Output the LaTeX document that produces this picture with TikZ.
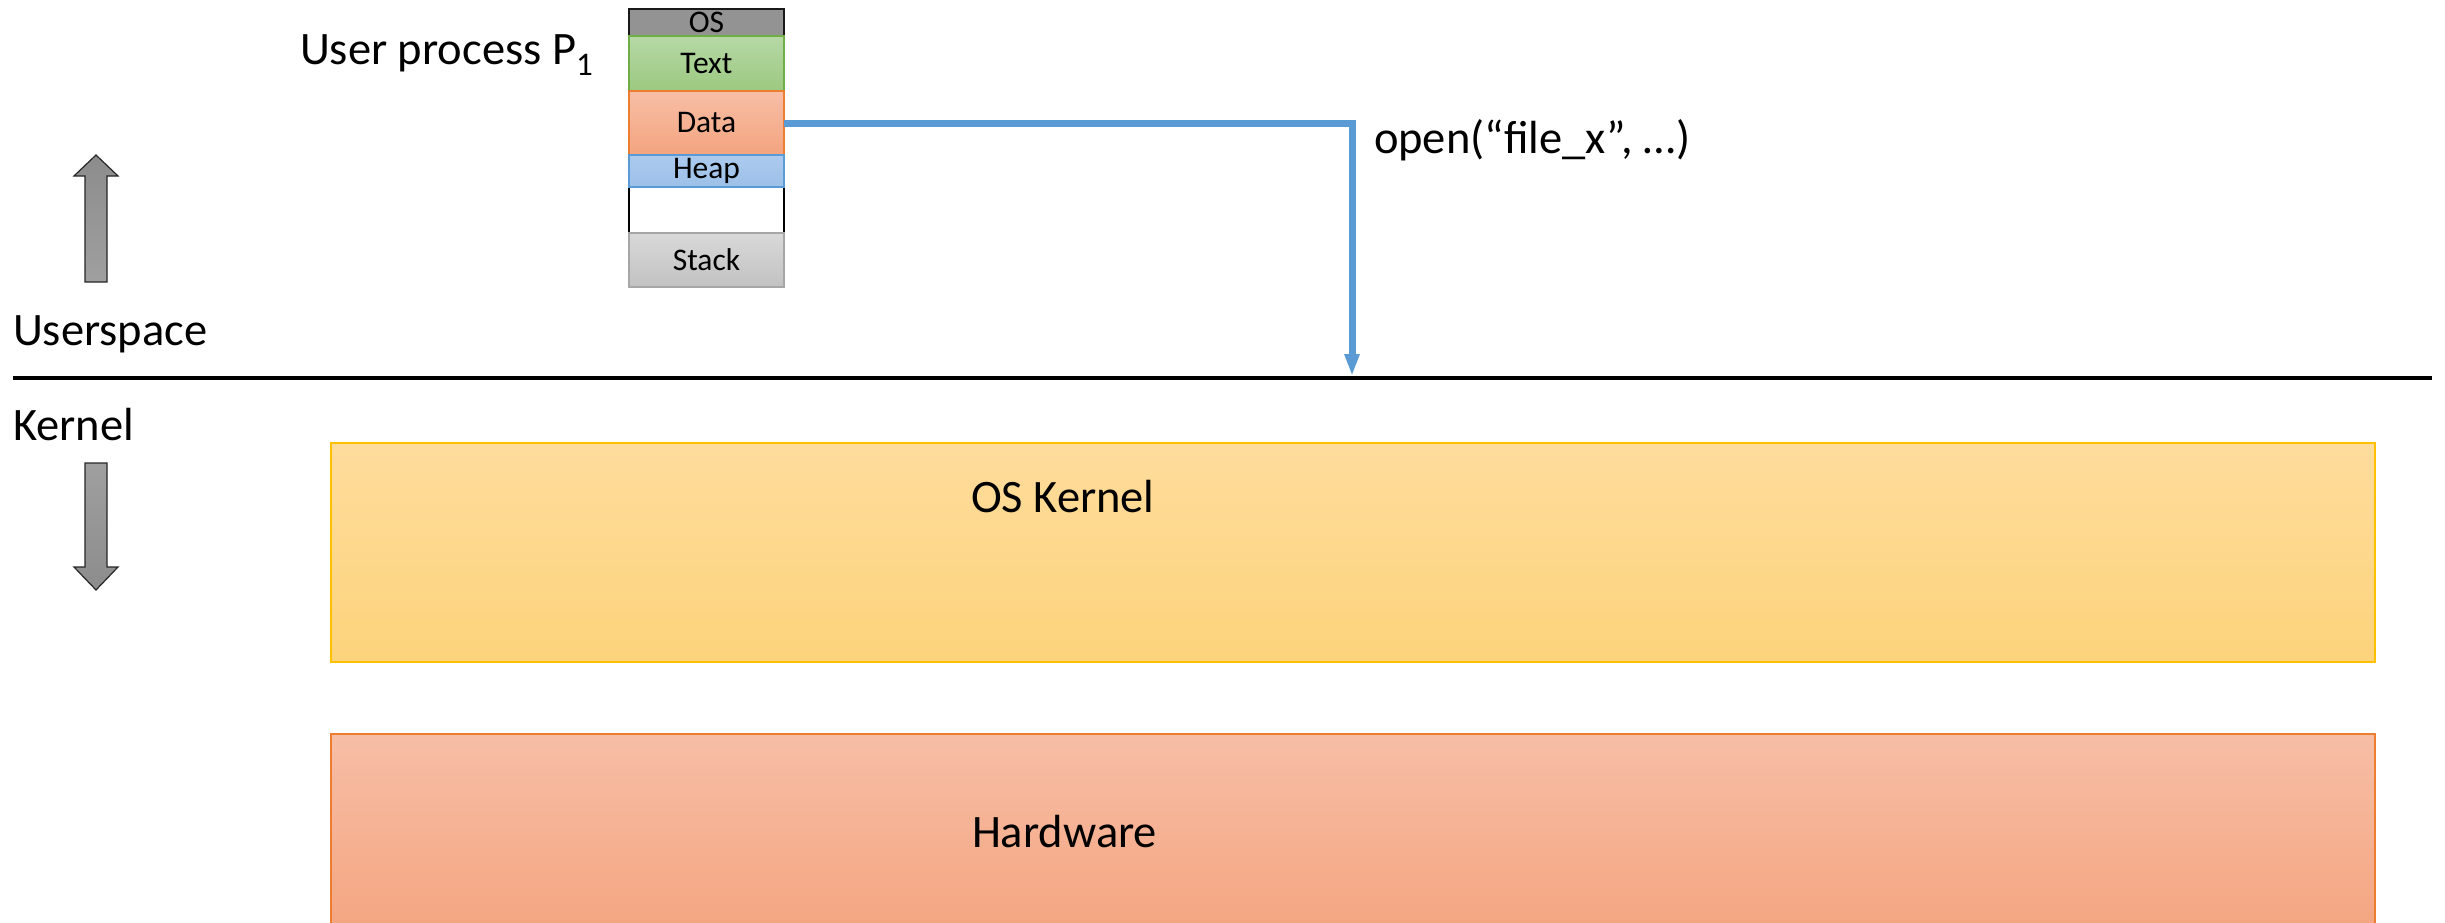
\documentclass[tikz,border=0pt]{standalone}
\usepackage{fontspec}
\setmainfont{Carlito}
\usetikzlibrary{arrows.meta}

\definecolor{callblue}{HTML}{5B9BD5}
\definecolor{kerneledge}{HTML}{FFC000}
\definecolor{kerneltop}{HTML}{FEDC9C}
\definecolor{kernelbot}{HTML}{FDD37B}
\definecolor{hwedge}{HTML}{ED7D31}
\definecolor{hwtop}{HTML}{F7BEA6}
\definecolor{hwbot}{HTML}{F4A47F}

\begin{document}
\begin{tikzpicture}[x=1pt,y=-1pt,
  bigtext/.style={inner sep=0pt,outer sep=0pt,font=\fontsize{46.5}{50}\selectfont},
  seg/.style={rectangle,inner sep=0pt,outer sep=0pt,minimum width=155pt,
    line width=1.6pt,font=\fontsize{31.5}{33}\selectfont},
  layer/.style={rectangle,inner sep=0pt,outer sep=0pt,minimum width=2044pt,line width=2.2pt},
  modearrow/.style={line width=1.2pt,draw=black!85},
  callline/.style={draw=callblue,line width=7pt,
    -{Triangle[width=14pt,length=22pt]}}
]
\useasboundingbox (0,0) rectangle (2445,922);

% user/kernel boundary
\coordinate (divL) at (13,378);
\coordinate (divR) at (2432,378);
\draw[line width=4pt] (divL) -- (divR);

\node[bigtext,anchor=base west] (userspace) at (13,345) {Userspace};
\node[bigtext,anchor=base west] (kernellbl) at (13,440) {Kernel};

% direction arrows
\path[modearrow,top color=gray!110!black,bottom color=gray!75]
  (96,155) -- (118,176) -- (107,176) -- (107,282) -- (85,282) -- (85,176) -- (74,176) -- cycle;
\path[modearrow,top color=gray!75,bottom color=gray!110!black]
  (85,463) -- (107,463) -- (107,567) -- (118,567) -- (96,590) -- (74,567) -- (85,567) -- cycle;

% process address space
\node[bigtext,anchor=base west] (proc) at (300,64)
  {User process P\raisebox{-11pt}{\fontsize{33}{34}\selectfont 1}};

\node[seg,minimum height=46pt,fill=white] (gap) at (706.5,210) {};
\draw[line width=1.6pt] (gap.north west) -- (gap.south west)
  (gap.north east) -- (gap.south east);
\node[seg,minimum height=27pt,draw=black!90,top color=gray!85,bottom color=gray!115!black] (os) at (706.5,22.5) {OS};
\node[seg,minimum height=55pt,draw={rgb,255:red,112;green,173;blue,71},
  top color={rgb,255:red,182;green,216;blue,166},bottom color={rgb,255:red,156;green,201;blue,128}] (text) at (706.5,63.5) {Text};
\node[seg,minimum height=64pt,draw=hwedge,top color=hwtop,bottom color=hwbot] (data) at (706.5,123) {Data};
\node[seg,minimum height=32pt,draw=callblue,
  top color={rgb,255:red,172;green,202;blue,238},bottom color={rgb,255:red,157;green,192;blue,232}] (heap) at (706.5,171) {Heap};
\node[seg,minimum height=54pt,draw=gray!70,top color=gray!30,bottom color=gray!48] (stack) at (706.5,260) {Stack};

% system call
\coordinate (callpt) at (1352,376);
\draw[callline] (data.east) -| (callpt);
\node[bigtext,anchor=base west] (opencall) at (1374,153) {open(“file\_x”, …)};

% kernel and hardware layers
\node[layer,minimum height=219pt,draw=kerneledge,top color=kerneltop,bottom color=kernelbot] (oskernel) at (1353,552.5) {};
\node[bigtext,anchor=base west] (oskernellbl) at (971,512) {OS Kernel};

\node[layer,minimum height=206pt,draw=hwedge,top color=hwtop,bottom color=hwbot] (hardware) at (1353,837) {};
\node[bigtext,anchor=base west] (hardwarelbl) at (972,847) {Hardware};
\end{tikzpicture}
\end{document}
